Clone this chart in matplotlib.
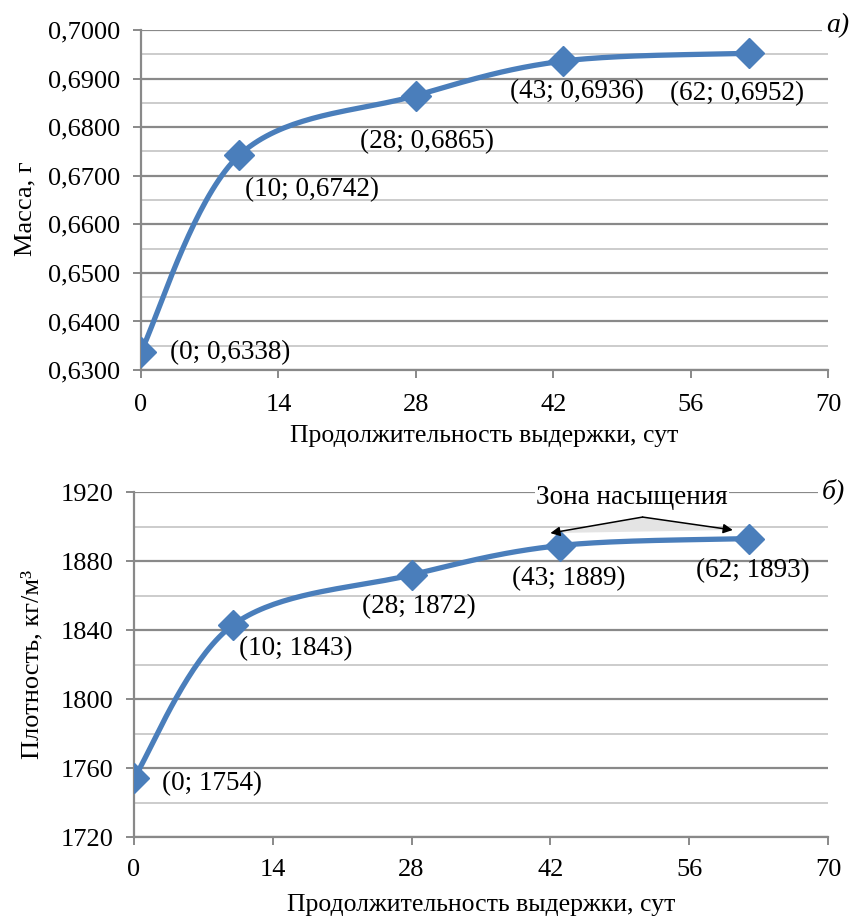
import numpy as np
import matplotlib
matplotlib.use('Agg')
import matplotlib.pyplot as plt
from matplotlib.ticker import MultipleLocator

plt.rcParams['font.family'] = ['Liberation Serif', 'DejaVu Serif']

# ── data ──────────────────────────────────────────────
days = [0, 10, 28, 43, 62]
mass = [0.6338, 0.6742, 0.6865, 0.6936, 0.6952]
density = [1754, 1843, 1872, 1889, 1893]
mass_labels = ['(0; 0,6338)', '(10; 0,6742)', '(28; 0,6865)', '(43; 0,6936)', '(62; 0,6952)']
dens_labels = ['(0; 1754)', '(10; 1843)', '(28; 1872)', '(43; 1889)', '(62; 1893)']
x_ticks = [0, 14, 28, 42, 56, 70]

BLUE = '#4a7ebb'
MAJ = '#898989'
MIN = '#c4c4c4'


def smooth(xs, ys, n=40):
    """Excel-like smoothed line (Bezier, Catmull-Rom style control points)"""
    p = np.column_stack([xs, ys]).astype(float)
    out = []
    for i in range(len(p) - 1):
        p0 = p[i - 1] if i > 0 else p[i]
        p3 = p[i + 2] if i + 2 < len(p) else p[i + 1]
        c1 = p[i] + (p[i + 1] - p0) / 6
        c2 = p[i + 1] - (p3 - p[i]) / 6
        t = np.linspace(0, 1, n)[:, None]
        seg = ((1 - t) ** 3 * p[i] + 3 * (1 - t) ** 2 * t * c1
               + 3 * (1 - t) * t ** 2 * c2 + t ** 3 * p[i + 1])
        out.append(seg)
    out = np.vstack(out)
    return out[:, 0], out[:, 1]


def style_axes(ax, ymin, ymax, major, minor, xpad):
    ax.set_xlim(0, 70)
    ax.set_ylim(ymin, ymax)
    ax.set_xticks(x_ticks)
    ax.yaxis.set_major_locator(MultipleLocator(major))
    ax.yaxis.set_minor_locator(MultipleLocator(minor))
    ax.grid(axis='y', which='major', color=MAJ, lw=1.6)
    ax.grid(axis='y', which='minor', color=MIN, lw=1.2)
    for s in ['top', 'right']:
        ax.spines[s].set_visible(False)
    for s in ['left', 'bottom']:
        ax.spines[s].set_color(MAJ)
        ax.spines[s].set_linewidth(1.6)
    ax.tick_params(axis='both', which='major', direction='out', length=6,
                   color=MAJ, width=1.4, labelsize=19)
    ax.tick_params(axis='x', pad=xpad)
    ax.tick_params(axis='y', pad=9)
    ax.tick_params(axis='y', which='minor', length=0)
    ax.set_axisbelow(True)


def label_points(ax, xs, ys, labels, offs, has):
    for i, lab in enumerate(labels):
        ax.annotate(lab, (xs[i], ys[i]), xytext=offs[i], textcoords='offset points',
                    fontsize=19.5, ha=has[i], va='center')


fig = plt.figure(figsize=(8.5, 9.18), dpi=100)

# ── a) mass ───────────────────────────────────────────
ax1 = fig.add_axes([0.1659, 0.5969, 0.8082, 0.3704])
style_axes(ax1, 0.63, 0.70, 0.01, 0.005, xpad=11.5)
ax1.yaxis.set_major_formatter(plt.FuncFormatter(lambda v, p: f'{v:.4f}'.replace('.', ',')))
sx, sy = smooth(days, mass)
ax1.plot(sx, sy, color=BLUE, lw=3.8, solid_capstyle='round', zorder=3)
ax1.plot(days, mass, 'D', color=BLUE, ms=15, zorder=4)
label_points(ax1, days, mass, mass_labels,
             [(21, -1), (4, -25), (8, -33), (10, -22), (-9, -29)],
             ['left', 'left', 'center', 'center', 'center'])
ax1.set_xlabel('Продолжительность выдержки, сут', fontsize=18.5, labelpad=6)
ax1.set_ylabel('Масса, г', fontsize=19)
ax1.yaxis.set_label_coords(-0.152, 0.476)
ax1.text(1.0146, 1.012, 'а)', transform=ax1.transAxes, fontsize=20, style='italic',
         ha='center', va='center', bbox=dict(fc='white', ec='none', pad=3), clip_on=False)

# ── б) density ────────────────────────────────────────
ax2 = fig.add_axes([0.1576, 0.0882, 0.8165, 0.3758])
style_axes(ax2, 1720, 1920, 40, 20, xpad=10)
sx, sy = smooth(days, density)
ax2.plot(sx, sy, color=BLUE, lw=3.8, solid_capstyle='round', zorder=3)
ax2.plot(days, density, 'D', color=BLUE, ms=15, zorder=4)
label_points(ax2, days, density, dens_labels,
             [(20, -4), (4, -17), (5, -23), (6, -24), (3, -23)],
             ['left', 'left', 'center', 'center', 'center'])
ax2.set_xlabel('Продолжительность выдержки, сут', fontsize=18.5, labelpad=9.5)
ax2.set_ylabel('Плотность, кг/м³', fontsize=19)
ax2.yaxis.set_label_coords(-0.131, 0.5)
ax2.text(1.008, 1.003, 'б)', transform=ax2.transAxes, fontsize=20, style='italic',
         ha='center', va='center', bbox=dict(fc='white', ec='none', pad=3), clip_on=False)

# saturation zone note
zone_src = (51.3, 1905.5)
zone_heads = [(42.0, 1896.2), (60.4, 1898.0)]
ax2.text(50.2, 1917, 'Зона насыщения', fontsize=19.5, ha='center', va='center',
         bbox=dict(fc='white', ec='none', pad=1), zorder=5)
ax2.fill([zone_src[0], zone_heads[0][0], zone_heads[1][0]],
         [zone_src[1], zone_heads[0][1], zone_heads[1][1]],
         color='#e4e4e4', ec='none', zorder=2)
for hx, hy in zone_heads:
    ax2.annotate('', xy=(hx, hy), xytext=zone_src,
                 arrowprops=dict(arrowstyle='-|>', color='black', lw=1.1,
                                 mutation_scale=14, shrinkA=0, shrinkB=0), zorder=5)

fig.savefig('out.png', dpi=100)
